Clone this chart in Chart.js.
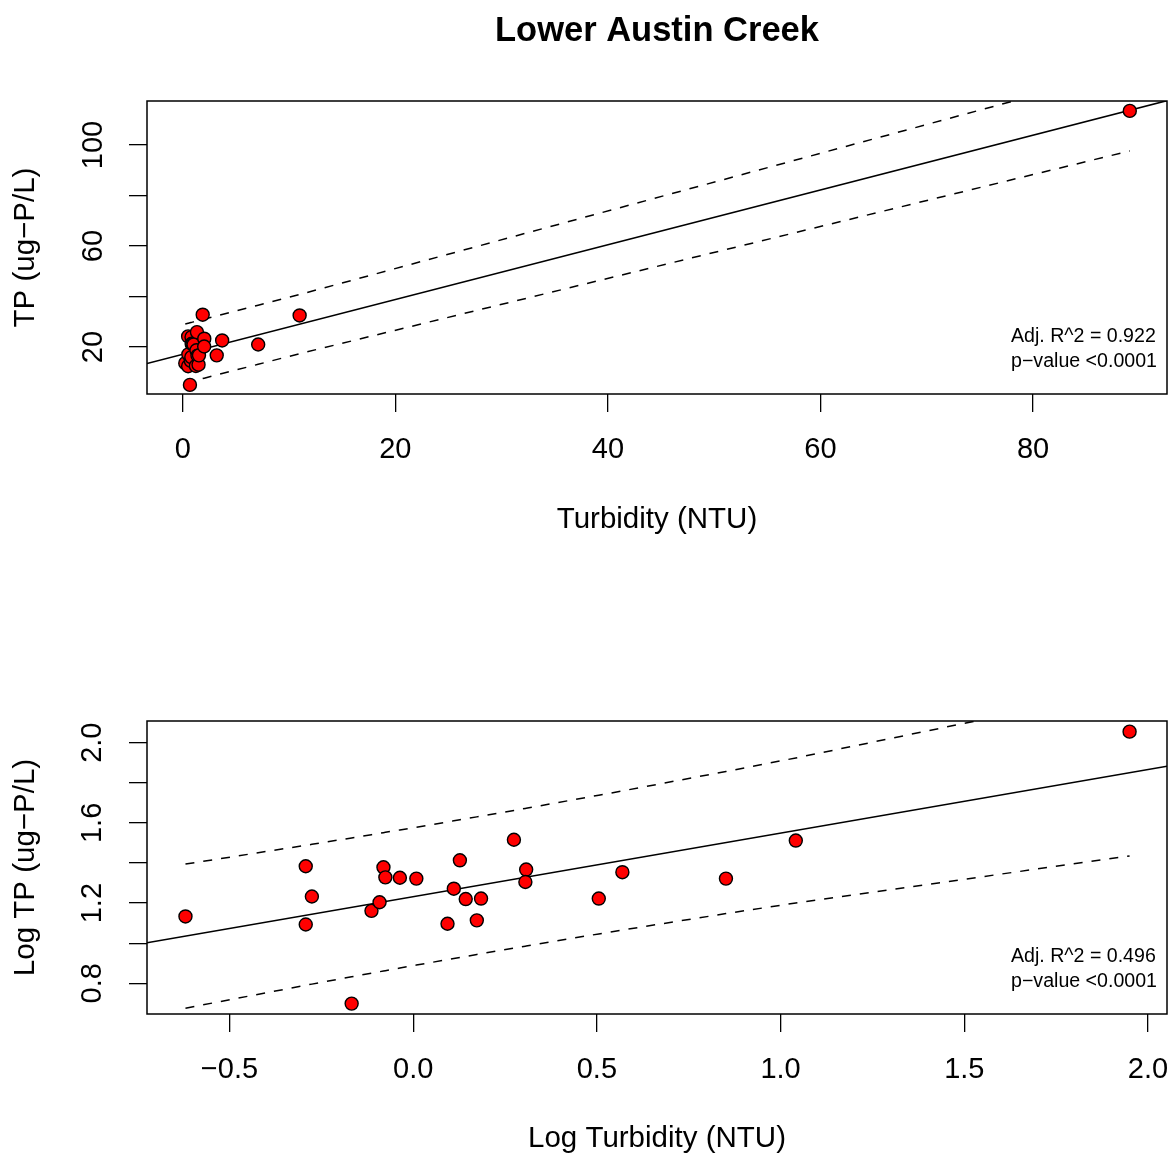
<!DOCTYPE html>
<html>
<head>
<meta charset="utf-8">
<title>Lower Austin Creek</title>
<script src="https://cdn.jsdelivr.net/npm/chart.js@4.4.0/dist/chart.umd.min.js"></script>
<style>
  html, body { margin: 0; padding: 0; background: #fff; }
  .panel { position: absolute; left: 0; width: 1171px; }
</style>
</head>
<body>
<div class="panel" style="top:0;height:580px"><canvas id="topChart" width="1171" height="580"></canvas></div>
<div class="panel" style="top:580px;height:579px"><canvas id="logChart" width="1171" height="579"></canvas></div>
<script>
// values
const turbidity = [0.24, 0.51, 0.53, 0.51, 0.68, 0.77, 0.81, 0.83, 0.84, 0.92, 1.02, 1.24, 1.29,
                   1.34, 1.39, 1.49, 1.53, 1.88, 2.03, 2.02, 3.2, 3.71, 7.1, 11.0, 89.1];
const tp = [13.6, 24.2, 17.1, 12.4, 5.0, 14.5, 16.0, 23.9, 21.3, 21.2, 21.0, 12.5, 18.7,
            25.9, 16.6, 13.0, 16.7, 32.8, 23.3, 20.2, 16.7, 22.6, 21.0, 32.5, 113.5];
const logTurbidity = turbidity.map(v => Math.log10(v));
const logTp = tp.map(v => Math.log10(v));

const topXTicks = [0, 20, 40, 60, 80];
const topYTicks = [20, 40, 60, 80, 100];
const topYLabels = [20, 60, 100];
const logXTicks = [-0.5, 0, 0.5, 1, 1.5, 2];
const logYTicks = [0.8, 1.0, 1.2, 1.4, 1.6, 1.8, 2.0];
const logYLabels = [0.8, 1.2, 1.6, 2.0];

const chartTitle = 'Lower Austin Creek';
const topStats = ['Adj. R^2 = 0.922', 'p\u2212value <0.0001'];
const logStats = ['Adj. R^2 = 0.496', 'p\u2212value <0.0001'];

const FONT = "'Liberation Sans', Arial, Helvetica, sans-serif";
const T975 = 2.0687; // t quantile, 23 df

Chart.defaults.font.family = FONT;
Chart.defaults.color = '#000';

function fitLine(xs, ys) {
  const n = xs.length;
  const mx = xs.reduce((a, b) => a + b, 0) / n;
  const my = ys.reduce((a, b) => a + b, 0) / n;
  let sxx = 0, sxy = 0;
  for (let i = 0; i < n; i++) {
    sxx += (xs[i] - mx) * (xs[i] - mx);
    sxy += (xs[i] - mx) * (ys[i] - my);
  }
  const b = sxy / sxx, a = my - b * mx;
  let sse = 0;
  for (let i = 0; i < n; i++) sse += Math.pow(ys[i] - a - b * xs[i], 2);
  return { a, b, mx, sxx, n, s: Math.sqrt(sse / (n - 2)) };
}

// prediction interval, evaluated at the observed x values
function band(fit, xs, sign) {
  return xs.slice().sort((p, q) => p - q).map(x => ({
    x: x,
    y: fit.a + fit.b * x + sign * T975 * fit.s * Math.sqrt(1 + 1 / fit.n + Math.pow(x - fit.mx, 2) / fit.sxx)
  }));
}

const boxPlugin = {
  id: 'box',
  afterDraw(chart) {
    const { ctx, chartArea: ca } = chart;
    ctx.save();
    ctx.strokeStyle = '#000';
    ctx.lineWidth = 1.5;
    ctx.strokeRect(ca.left, ca.top, ca.right - ca.left, ca.bottom - ca.top);
    const lines = chart.options.plugins.box.stats;
    ctx.font = '19.6px ' + FONT;
    ctx.fillStyle = '#000';
    ctx.textAlign = 'left';
    ctx.textBaseline = 'alphabetic';
    ctx.fillText(lines[0], ca.right - 156, ca.bottom - 52);
    ctx.fillText(lines[1], ca.right - 156, ca.bottom - 27);
    if (chart.options.plugins.box.title) {
      ctx.font = 'bold 34.5px ' + FONT;
      ctx.textAlign = 'center';
      ctx.fillText(chart.options.plugins.box.title, (ca.left + ca.right) / 2, 41);
    }
    ctx.restore();
  }
};

function makeChart(id, xs, ys, opt) {
  const fit = fitLine(xs, ys);
  const pts = xs.map((x, i) => ({ x: x, y: ys[i] }));
  const fmt = v => opt.digits ? v.toFixed(opt.digits).replace('-', '\u2212') : String(v);
  const gridOpts = { drawOnChartArea: false, drawTicks: true, tickLength: 18, tickColor: '#000', tickWidth: 1.3, lineWidth: 1.3 };
  return new Chart(document.getElementById(id), {
    type: 'scatter',
    data: {
      datasets: [
        { data: pts, pointRadius: 6.5, pointHoverRadius: 6.5, backgroundColor: '#ff0000', borderColor: '#000', borderWidth: 1.4 },
        { data: [{ x: opt.xMin, y: fit.a + fit.b * opt.xMin }, { x: opt.xMax, y: fit.a + fit.b * opt.xMax }],
          showLine: true, pointRadius: 0, borderColor: '#000', borderWidth: 1.5, clip: 0 },
        { data: band(fit, xs, 1), showLine: true, pointRadius: 0, borderColor: '#000', borderWidth: 1.5, borderDash: [9, 9], clip: 0 },
        { data: band(fit, xs, -1), showLine: true, pointRadius: 0, borderColor: '#000', borderWidth: 1.5, borderDash: [9, 9], clip: 0 }
      ]
    },
    options: {
      responsive: false,
      animation: false,
      events: [],
      layout: { autoPadding: false, padding: { top: opt.padTop, right: 4, left: 0, bottom: 0 } },
      plugins: {
        legend: { display: false },
        tooltip: { enabled: false },
        box: { stats: opt.stats, title: opt.title }
      },
      scales: {
        x: {
          type: 'linear', min: opt.xMin, max: opt.xMax,
          afterBuildTicks: s => { s.ticks = opt.xTicks.map(v => ({ value: v })); },
          afterFit: s => { s.height = opt.xAxisHeight; s.paddingLeft = 0; s.paddingRight = 0; },
          grid: gridOpts,
          border: { display: false },
          ticks: { autoSkip: false, maxRotation: 0, padding: 20.6, font: { size: 29 }, callback: v => fmt(v) },
          title: { display: true, text: opt.xTitle, font: { size: 29.5 }, padding: { top: 0, bottom: opt.xTitlePad } }
        },
        y: {
          type: 'linear', min: opt.yMin, max: opt.yMax,
          afterBuildTicks: s => { s.ticks = opt.yTicks.map(v => ({ value: v })); },
          afterFit: s => { s.width = 147; s.paddingTop = 0; s.paddingBottom = 0; },
          grid: gridOpts,
          border: { display: false },
          ticks: {
            autoSkip: false, minRotation: 90, maxRotation: 90, crossAlign: 'center',
            padding: opt.yTickPad, font: { size: 29 },
            callback: v => opt.yLabels.some(l => Math.abs(l - v) < 1e-9) ? fmt(v) : ''
          },
          title: { display: true, text: opt.yTitle, font: { size: 29.5 }, padding: { top: 8, bottom: 0 } }
        }
      }
    },
    plugins: [boxPlugin]
  });
}

makeChart('topChart', turbidity, tp, {
  xMin: -3.36, xMax: 92.6, yMin: 1.39, yMax: 117.43,
  xTicks: topXTicks, yTicks: topYTicks, yLabels: topYLabels, digits: 0,
  padTop: 101, xAxisHeight: 186, xTitlePad: 42.3, yTickPad: 10.8,
  xTitle: 'Turbidity (NTU)', yTitle: 'TP (ug\u2212P/L)',
  stats: topStats, title: chartTitle
});

makeChart('logChart', logTurbidity, logTp, {
  xMin: -0.7245, xMax: 2.0517, yMin: 0.647, yMax: 2.108,
  xTicks: logXTicks, yTicks: logYTicks, yLabels: logYLabels, digits: 1,
  padTop: 141, xAxisHeight: 145, xTitlePad: 2.3, yTickPad: 15.8,
  xTitle: 'Log Turbidity (NTU)', yTitle: 'Log TP (ug\u2212P/L)',
  stats: logStats, title: null
});
</script>
</body>
</html>
